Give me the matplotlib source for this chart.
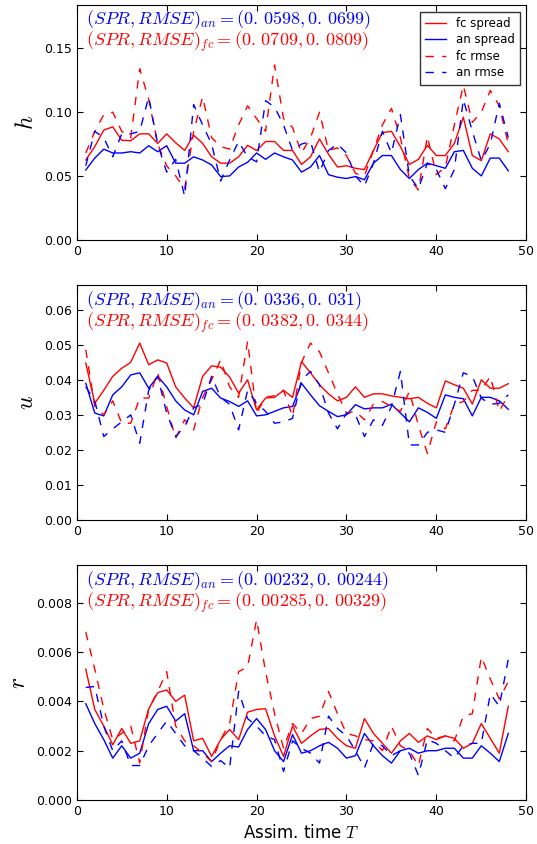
import numpy as np
import matplotlib
matplotlib.use("Agg")
import matplotlib.pyplot as plt

plt.rcParams['mathtext.fontset'] = 'cm'
plt.rcParams['font.family'] = ['DejaVu Sans']
plt.rcParams['font.size'] = 9
plt.rcParams['lines.dashed_pattern'] = [6, 6]

T = np.arange(1, 49)

# --- h ---
h_fc_spread = [0.0625, 0.073, 0.086, 0.0885, 0.078, 0.0776, 0.083, 0.083, 0.0755, 0.083,
               0.076, 0.070, 0.082, 0.0755, 0.065, 0.060, 0.060, 0.065, 0.074, 0.070,
               0.077, 0.077, 0.070, 0.070, 0.059, 0.065, 0.079, 0.067, 0.057, 0.058,
               0.056, 0.055, 0.070, 0.084, 0.085, 0.073, 0.059, 0.063, 0.074, 0.066,
               0.066, 0.0755, 0.096, 0.066, 0.062, 0.083, 0.079, 0.069]
h_an_spread = [0.0547, 0.064, 0.071, 0.068, 0.068, 0.069, 0.068, 0.0737, 0.069, 0.0737,
               0.060, 0.060, 0.065, 0.0625, 0.0586, 0.0495, 0.050, 0.057, 0.0607, 0.068,
               0.063, 0.068, 0.065, 0.0625, 0.053, 0.057, 0.066, 0.051, 0.049, 0.048,
               0.0495, 0.047, 0.060, 0.066, 0.066, 0.055, 0.048, 0.055, 0.060, 0.058,
               0.056, 0.069, 0.070, 0.056, 0.050, 0.064, 0.064, 0.054]
h_fc_rmse = [0.068, 0.085, 0.098, 0.100, 0.085, 0.080, 0.134, 0.110, 0.075, 0.058,
             0.050, 0.040, 0.085, 0.112, 0.080, 0.073, 0.071, 0.090, 0.105, 0.095,
             0.085, 0.137, 0.095, 0.088, 0.068, 0.080, 0.100, 0.070, 0.072, 0.066,
             0.052, 0.050, 0.070, 0.090, 0.103, 0.080, 0.048, 0.039, 0.081, 0.051,
             0.057, 0.090, 0.121, 0.092, 0.100, 0.117, 0.105, 0.075]
h_an_rmse = [0.058, 0.085, 0.080, 0.065, 0.083, 0.083, 0.085, 0.112, 0.075, 0.053,
             0.063, 0.034, 0.106, 0.090, 0.075, 0.046, 0.0625, 0.077, 0.065, 0.061,
             0.109, 0.104, 0.090, 0.070, 0.075, 0.077, 0.053, 0.070, 0.075, 0.068,
             0.050, 0.042, 0.060, 0.085, 0.068, 0.098, 0.050, 0.040, 0.060, 0.055,
             0.040, 0.055, 0.110, 0.085, 0.062, 0.075, 0.107, 0.080]

# --- u ---
u_fc_spread = [0.0448, 0.0333, 0.037, 0.041, 0.0433, 0.045, 0.0505, 0.0443, 0.0457, 0.0448,
               0.038, 0.0348, 0.032, 0.041, 0.044, 0.0436, 0.0408, 0.0362, 0.040, 0.0314,
               0.0348, 0.035, 0.037, 0.035, 0.0452, 0.042, 0.0386, 0.036, 0.034, 0.035,
               0.038, 0.035, 0.036, 0.036, 0.0354, 0.035, 0.0346, 0.035, 0.0333, 0.032,
               0.0397, 0.0386, 0.0376, 0.0331, 0.040, 0.0376, 0.0376, 0.0389]
u_an_spread = [0.039, 0.0305, 0.0297, 0.0357, 0.038, 0.0414, 0.042, 0.0376, 0.041, 0.038,
               0.034, 0.0314, 0.030, 0.0367, 0.0376, 0.0348, 0.0338, 0.0324, 0.034, 0.0297,
               0.030, 0.031, 0.032, 0.0324, 0.039, 0.0357, 0.0326, 0.031, 0.0295, 0.030,
               0.0329, 0.0317, 0.032, 0.032, 0.033, 0.0305, 0.028, 0.032, 0.0307, 0.029,
               0.0357, 0.035, 0.0346, 0.0297, 0.035, 0.035, 0.034, 0.0316]
u_fc_rmse = [0.0486, 0.0324, 0.030, 0.034, 0.0276, 0.0276, 0.0348, 0.0348, 0.042, 0.0324,
             0.0233, 0.0286, 0.0257, 0.035, 0.040, 0.0457, 0.038, 0.035, 0.051, 0.0305,
             0.035, 0.0355, 0.037, 0.0295, 0.045, 0.0505, 0.048, 0.042, 0.036, 0.0305,
             0.031, 0.0286, 0.033, 0.0338, 0.0324, 0.031, 0.0367, 0.027, 0.019, 0.028,
             0.026, 0.033, 0.0338, 0.037, 0.037, 0.041, 0.031, 0.0357]
u_an_rmse = [0.038, 0.034, 0.0238, 0.026, 0.028, 0.030, 0.0219, 0.037, 0.041, 0.0305,
             0.0238, 0.0267, 0.032, 0.033, 0.041, 0.035, 0.033, 0.0257, 0.037, 0.0333,
             0.031, 0.0276, 0.028, 0.029, 0.040, 0.0424, 0.0386, 0.0305, 0.026, 0.0305,
             0.030, 0.0238, 0.0286, 0.027, 0.0324, 0.0424, 0.0214, 0.0214, 0.025, 0.0257,
             0.025, 0.033, 0.042, 0.041, 0.0348, 0.033, 0.0333, 0.0357]

# --- r ---
r_fc_spread = [0.0053, 0.00367, 0.003, 0.00224, 0.0029, 0.0023, 0.0024, 0.0037, 0.00435, 0.00446,
               0.004, 0.00425, 0.0024, 0.0025, 0.00177, 0.00245, 0.00286, 0.00245, 0.00356, 0.00367,
               0.0037, 0.0026, 0.00177, 0.003, 0.0023, 0.0026, 0.00286, 0.0029, 0.0025, 0.0022,
               0.0021, 0.0033, 0.0027, 0.0023, 0.0019, 0.0024, 0.0027, 0.00234, 0.0026, 0.00245,
               0.0026, 0.0025, 0.0021, 0.0023, 0.0031, 0.0025, 0.0019, 0.0038]
r_an_spread = [0.0039, 0.0031, 0.00245, 0.0017, 0.0022, 0.0017, 0.0019, 0.0031, 0.00367, 0.0038,
               0.0032, 0.0035, 0.002, 0.002, 0.00156, 0.0019, 0.0022, 0.00215, 0.00286, 0.0033,
               0.00286, 0.002, 0.00156, 0.00265, 0.0019, 0.002, 0.0022, 0.00234, 0.0021, 0.0017,
               0.0018, 0.0027, 0.0022, 0.0018, 0.0015, 0.002, 0.0021, 0.0019, 0.002, 0.002,
               0.0021, 0.0021, 0.0017, 0.0017, 0.0022, 0.0019, 0.00156, 0.0027]
r_fc_rmse = [0.0068, 0.0053, 0.0037, 0.00245, 0.0027, 0.003, 0.0015, 0.0037, 0.0044, 0.0052,
             0.003, 0.0024, 0.0022, 0.0019, 0.00156, 0.00245, 0.0031, 0.0052, 0.0054, 0.0073,
             0.0052, 0.0035, 0.0021, 0.0031, 0.0027, 0.0033, 0.0034, 0.0044, 0.0035, 0.0027,
             0.0026, 0.00245, 0.0024, 0.002, 0.003, 0.0022, 0.002, 0.0014, 0.0029, 0.0025,
             0.0026, 0.0024, 0.0034, 0.0035, 0.0058, 0.0049, 0.0041, 0.0048]
r_an_rmse = [0.00456, 0.0046, 0.003, 0.002, 0.0024, 0.0014, 0.0014, 0.0022, 0.0027, 0.0032,
             0.0027, 0.0022, 0.002, 0.0017, 0.00136, 0.0016, 0.0013, 0.0044, 0.0033, 0.003,
             0.0026, 0.00245, 0.00116, 0.0024, 0.0021, 0.0019, 0.0015, 0.0034, 0.0029, 0.0026,
             0.002, 0.0013, 0.0023, 0.0022, 0.0018, 0.002, 0.0019, 0.001, 0.00245, 0.0023,
             0.002, 0.0017, 0.0022, 0.0023, 0.0023, 0.0043, 0.0038, 0.0057]

an_text = [r'$(SPR,RMSE)_{an} = (0.\,0598, 0.\,0699)$',
           r'$(SPR,RMSE)_{an} = (0.\,0336, 0.\,031)$',
           r'$(SPR,RMSE)_{an} = (0.\,00232, 0.\,00244)$']
fc_text = [r'$(SPR,RMSE)_{fc} = (0.\,0709, 0.\,0809)$',
           r'$(SPR,RMSE)_{fc} = (0.\,0382, 0.\,0344)$',
           r'$(SPR,RMSE)_{fc} = (0.\,00285, 0.\,00329)$']
var_names = ['h', 'u', 'r']
ytops = [0.184, 0.067, 0.0095]
yticks = [np.arange(0, 0.16, 0.05), np.arange(0, 0.061, 0.01), np.arange(0, 0.0081, 0.002)]
yfmt = ['%.2f', '%.2f', '%.3f']

series = [(h_fc_spread, h_an_spread, h_fc_rmse, h_an_rmse),
          (u_fc_spread, u_an_spread, u_fc_rmse, u_an_rmse),
          (r_fc_spread, r_an_spread, r_fc_rmse, r_an_rmse)]

fig = plt.figure(figsize=(5.37, 8.44), dpi=100)
bottoms = [0.716, 0.384, 0.052]

for i in range(3):
    ax = fig.add_axes([0.143, bottoms[i], 0.837, 0.278])
    fs, as_, fr, ar = series[i]
    ax.plot(T, fs, 'r-', lw=1, label='fc spread')
    ax.plot(T, as_, 'b-', lw=1, label='an spread')
    ax.plot(T, fr, 'r--', lw=1, label='fc rmse')
    ax.plot(T, ar, 'b--', lw=1, label='an rmse')
    ax.set_xlim(0, 50)
    ax.set_ylim(0, ytops[i])
    ax.set_xticks(range(0, 51, 10))
    ax.set_yticks(yticks[i])
    ax.yaxis.set_major_formatter(matplotlib.ticker.FormatStrFormatter(yfmt[i]))
    ax.tick_params(direction='in', top=True, right=True, length=4, labelsize=9)
    ax.set_ylabel('$%s$' % var_names[i], fontsize=17)
    ax.text(0.02, 0.985, an_text[i], color='b', fontsize=13,
            transform=ax.transAxes, va='top', ha='left')
    ax.text(0.02, 0.893, fc_text[i], color='r', fontsize=13,
            transform=ax.transAxes, va='top', ha='left')
    if i == 0:
        leg = ax.legend(loc='upper right', fontsize=8.5, fancybox=False,
                        borderaxespad=0.55, handlelength=1.8, labelspacing=0.3,
                        borderpad=0.45)
        leg.get_frame().set_edgecolor('k')
    if i == 2:
        ax.set_xlabel('Assim. time $T$', fontsize=12)

fig.savefig('out.png', dpi=100, facecolor='white')
